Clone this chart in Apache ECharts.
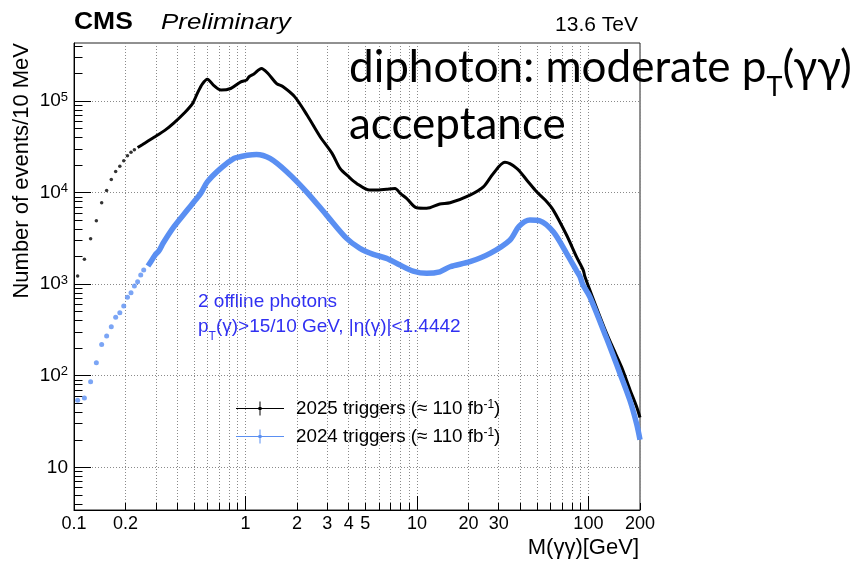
<!DOCTYPE html>
<html><head><meta charset="utf-8">
<script src="https://cdn.jsdelivr.net/npm/echarts@6/dist/echarts.min.js"></script>
<style>html,body{margin:0;padding:0;background:#fff}#c{width:866px;height:562px}</style>
</head><body><div id="c"></div>
<script>
// ---- data ----
const lowMass2025 = [0.105,0.115,0.125,0.135,0.145,0.155,0.165,0.175,0.185,0.195,0.205,0.215,0.225];
const low2025 = [1225,1870,3130,4920,7740,10570,13900,17000,19450,22200,25200,27500,29300];
const lineMass2025 = [0.235,0.25,0.293,0.34,0.383,0.44,0.49,0.524,0.56,0.60,0.65,0.72,0.82,0.94,1.016,1.05,1.12,1.24,1.35,1.52,1.65,1.94,2.3,2.72,3.2,3.56,4.0,4.45,5.3,6.0,6.65,7.45,8.0,8.7,9.96,11.4,13.6,15.6,20.4,24.4,27.9,32.6,38.2,44,49.9,56,62.4,74.6,85.3,93.3,95.5,110,127.7,140,156,175,191,200];
const line2025 = [31000,33300,40100,48100,57800,74000,93000,121000,153000,173000,149000,131500,137000,162000,170000,184000,197000,227000,201000,155000,144000,111000,69000,41000,26800,18400,14900,12600,10650,10700,10900,11100,9800,8650,6820,6730,7500,7740,9400,11550,16200,21400,18400,13500,10200,8280,6440,3440,1990,1425,1205,593,290,196,125,70,46,35];

const lowMass2024 = [0.105,0.115,0.125,0.135,0.145,0.155,0.165,0.175,0.185,0.195,0.205,0.215,0.225,0.235,0.245,0.255];
const low2024 = [54,57,86,139,220,271,343,434,488,577,718,805,953,1062,1256,1426];
const lineMass2024 = [0.27,0.283,0.297,0.313,0.332,0.383,0.458,0.501,0.548,0.599,0.717,0.857,0.93,1.024,1.16,1.39,1.74,2.27,2.97,3.89,4.65,5.57,6.65,7.96,9.5,11.4,13.6,15.6,20.4,26.7,34.8,39.5,45.6,52.1,62.4,74.6,85.3,89.5,92.5,102,127.7,152.8,174.6,191,200];
const line2024 = [1577,1800,2080,2317,2830,4240,6440,7940,9800,13100,18400,23600,24600,25600,26100,23600,16900,10200,5680,3160,2460,2115,1913,1616,1390,1312,1365,1550,1758,2168,3020,4300,5010,4920,3730,2168,1400,1200,1000,728,256,106,54,30,20];

const xLabelValues = [0.1,0.2,1,2,3,4,5,10,20,30,100,200];
const xMajorTicks = [0.1,1,10,100];
const xAllTicks = [0.1,0.2,0.3,0.4,0.5,0.6,0.7,0.8,0.9,1,2,3,4,5,6,7,8,9,10,20,30,40,50,60,70,80,90,100,200];
const yMajorTicks = [10,100,1000,10000,100000];
const yMinorTicks = [4,5,6,7,8,9,20,30,40,50,60,70,80,90,200,300,400,500,600,700,800,900,2000,3000,4000,5000,6000,7000,8000,9000,20000,30000,40000,50000,60000,70000,80000,90000,200000,300000,400000];

const legendNames = ['2025 triggers','2024 triggers'];
const BLACK = '#000';
const BLUE = '#5a8ff2';
const TEXTBLUE = '#3030f2';
const FONT = '"Liberation Sans", Arial, sans-serif';
const SLIDEFONT = 'Lato, "Noto Sans", sans-serif';

const zip = (xs, ys) => xs.map((x, i) => [x, ys[i]]);

const chart = echarts.init(document.getElementById('c'), null, {renderer: 'canvas'});
const gridBox = {left: 74, right: 226, top: 43, bottom: 52};
const legendIcon = 'path://M0,6.5H48V7.5H0Z M23.5,0H24.5V14H23.5Z M22.5,5.5H25.5V8.5H22.5Z';

const option = {
  animation: false,
  backgroundColor: '#fff',
  grid: Object.assign({show: true, borderColor: '#222', borderWidth: 1, backgroundColor: 'transparent', outerBoundsMode: 'none'}, gridBox),
  xAxis: [
    {type: 'log', logBase: 10, min: 0.1, max: 200, position: 'bottom',
     axisLine: {show: true, onZero: false, lineStyle: {color: BLACK, width: 1}},
     axisTick: {show: true, inside: true, length: 14, lineStyle: {color: BLACK}, customValues: xMajorTicks},
     axisLabel: {show: true, customValues: xLabelValues, margin: 5, fontSize: 18, fontFamily: FONT, color: BLACK,
                 showMinLabel: true, showMaxLabel: true,
                 formatter: v => String(+(+v).toPrecision(3))},
     splitLine: {show: false}, minorTick: {show: false}},
    {type: 'log', logBase: 10, min: 0.1, max: 200, position: 'bottom',
     axisLine: {show: false, onZero: false},
     axisTick: {show: true, inside: true, length: 7, lineStyle: {color: BLACK}, customValues: xAllTicks},
     axisLabel: {show: false},
     splitLine: {show: true, lineStyle: {color: '#8a8a8a', width: 1, type: [1, 2]}}}
  ],
  yAxis: [
    {type: 'log', logBase: 10, min: 3.42, max: 430000, position: 'left',
     axisLine: {show: true, onZero: false, lineStyle: {color: BLACK, width: 1}},
     axisTick: {show: true, inside: true, length: 17, lineStyle: {color: BLACK}, customValues: yMajorTicks},
     axisLabel: {show: true, customValues: yMajorTicks, margin: 6, fontSize: 19, fontFamily: FONT, color: BLACK,
                 formatter: v => { const e = Math.round(Math.log10(v)); return e === 1 ? '10' : '10{sup|' + e + '}'; },
                 rich: {sup: {fontSize: 13, fontFamily: FONT, color: BLACK, verticalAlign: 'top', padding: [0, 0, 8, 0]}}},
     splitLine: {show: true, lineStyle: {color: '#8a8a8a', width: 1, type: [1, 2]}}},
    {type: 'log', logBase: 10, min: 3.42, max: 430000, position: 'left',
     axisLine: {show: false, onZero: false},
     axisTick: {show: true, inside: true, length: 8.5, lineStyle: {color: BLACK}, customValues: yMinorTicks},
     axisLabel: {show: false}, splitLine: {show: false}}
  ],
  legend: {
    left: 236, top: 399, orient: 'vertical', itemWidth: 48, itemHeight: 14, itemGap: 9,
    selectedMode: false, padding: 0,
    data: [{name: legendNames[0], icon: legendIcon}, {name: legendNames[1], icon: legendIcon}],
    formatter: n => n + ' (\u2248 110 fb{sup|-1})',
    textStyle: {fontSize: 18.8, fontFamily: FONT, color: BLACK, padding: [0, 0, 0, 7],
                rich: {sup: {fontSize: 12, fontFamily: FONT, color: BLACK, verticalAlign: 'top', padding: [0, 0, 6, 0]}}}
  },
  series: [
    {name: legendNames[0], type: 'line', xAxisIndex: 0, yAxisIndex: 0, data: zip(lineMass2025, line2025),
     showSymbol: false, symbol: 'none', smooth: 0.3, color: BLACK, lineStyle: {color: BLACK, width: 3}, z: 3},
    {name: legendNames[0], type: 'scatter', xAxisIndex: 0, yAxisIndex: 0, data: zip(lowMass2025, low2025),
     symbol: 'circle', symbolSize: 3.5, itemStyle: {color: BLACK}, z: 3},
    {name: legendNames[1], type: 'line', xAxisIndex: 0, yAxisIndex: 0, data: zip(lineMass2024, line2024),
     showSymbol: false, symbol: 'none', smooth: 0.3, color: BLUE, lineStyle: {color: BLUE, width: 5.5}, z: 4},
    {name: legendNames[1], type: 'scatter', xAxisIndex: 0, yAxisIndex: 0, data: zip(lowMass2024, low2024),
     symbol: 'circle', symbolSize: 5, itemStyle: {color: BLUE}, z: 4}
  ],
  graphic: [
    {type: 'text', x: 74, y: 23, scaleX: 1.15, style: {x: 0, y: 0, text: 'CMS', font: 'bold 23px ' + FONT, fill: BLACK, align: 'left', verticalAlign: 'middle'}},
    {type: 'text', x: 161, y: 23, scaleX: 1.18, style: {x: 0, y: 0, text: 'Preliminary', font: 'italic 22px ' + FONT, fill: BLACK, align: 'left', verticalAlign: 'middle'}},
    {type: 'text', x: 638, y: 25, style: {x: 0, y: 0, text: '13.6 TeV', font: '21px ' + FONT, fill: BLACK, align: 'right', verticalAlign: 'middle'}},
    {type: 'text', x: 349, y: 68, z: 10, style: {x: 0, y: 0, text: 'diphoton: moderate p{sub|T}(\u03b3\u03b3)', fontSize: 44, fontFamily: SLIDEFONT, fill: BLACK, align: 'left', verticalAlign: 'middle',
      rich: {sub: {fontSize: 27, fontFamily: SLIDEFONT, fill: BLACK, verticalAlign: 'bottom', padding: [0, 0, -11, 0]}}}},
    {type: 'text', x: 349, y: 125, z: 10, style: {x: 0, y: 0, text: 'acceptance', fontSize: 44, fontFamily: SLIDEFONT, fill: BLACK, align: 'left', verticalAlign: 'middle'}},
    {type: 'text', x: 198, y: 302, style: {x: 0, y: 0, text: '2 offline photons', font: '19px ' + FONT, fill: TEXTBLUE, align: 'left', verticalAlign: 'middle'}},
    {type: 'text', x: 198, y: 327, style: {x: 0, y: 0, text: 'p{sub|T}(\u03b3)>15/10 GeV, |\u03b7(\u03b3)|<1.4442', fontSize: 19, fontFamily: FONT, fill: TEXTBLUE, align: 'left', verticalAlign: 'middle',
      rich: {sub: {fontSize: 12, fontFamily: FONT, fill: TEXTBLUE, verticalAlign: 'bottom', padding: [0, 0, -6, 0]}}}},
    {type: 'text', x: 22, y: 43, rotation: Math.PI / 2, style: {x: 0, y: 0, text: 'Number of events/10 MeV', font: '22px ' + FONT, fill: BLACK, align: 'right', verticalAlign: 'middle'}},
    {type: 'text', x: 639, y: 548, style: {x: 0, y: 0, text: 'M(\u03b3\u03b3)[GeV]', font: '22px ' + FONT, fill: BLACK, align: 'right', verticalAlign: 'middle'}}
  ]
};
chart.setOption(option);
</script></body></html>
